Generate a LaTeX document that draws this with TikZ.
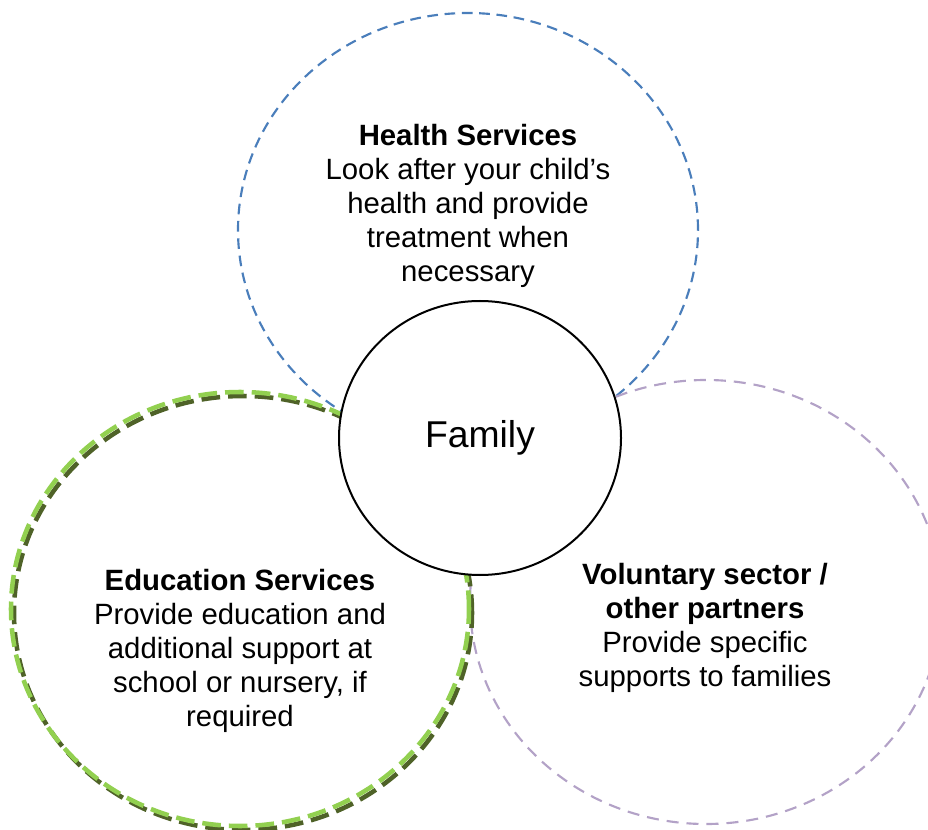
\documentclass[tikz,border=0pt]{standalone}
\usepackage{fontspec}
\setmainfont{Liberation Sans}
\usetikzlibrary{positioning,shapes.geometric}
\definecolor{healthblue}{HTML}{4A7EBB}
\definecolor{volpurple}{HTML}{B3A2C7}
\definecolor{edulight}{HTML}{92D050}
\definecolor{edudark}{HTML}{4F6228}

\begin{document}
\begin{tikzpicture}[
x=0.75pt,y=-0.75pt,
ring/.style={
	ellipse,
	draw,
	inner sep=0pt
},
healthring/.style={
	ring,
	healthblue,
	line width=1.6pt,
	dash pattern=on 8pt off 5pt
},
volring/.style={
	ring,
	volpurple,
	line width=1.6pt,
	dash pattern=on 9pt off 6pt
},
eduring/.style={
	ring,
	line width=3.4pt,
	dash pattern=on 14pt off 6pt
},
blurb/.style={
	align=center,
	inner sep=0pt,
	anchor=north,
	font=\fontsize{22}{25.5}\selectfont
}
]
\useasboundingbox (0,0) rectangle (928,830);

\node[healthring,minimum width=345pt,minimum height=325.5pt] (health) at (468,230) {};
\node[volring,minimum width=354pt,minimum height=333pt] (volunt) at (706,602) {};
\node[eduring,edudark,minimum width=343.5pt,minimum height=325.5pt] (educshadow) at (243,613) {};
\node[eduring,edulight,minimum width=343.5pt,minimum height=325.5pt] (educ) at (240,609) {};

\node[ring,fill=white,line width=1.5pt,minimum width=211.5pt,minimum height=205.5pt,
	font=\fontsize{28}{33}\selectfont] (family) at (480,438) {Family};

\node[blurb] (healthtxt) at (468,124) {\textbf{Health Services}\\Look after your child’s\\health and provide\\treatment when\\necessary};
\node[blurb] (eductxt) at (240,569) {\textbf{Education Services}\\Provide education and\\additional support at\\school or nursery, if\\required};
\node[blurb] (volunttxt) at (705,563) {\textbf{Voluntary sector /}\\\textbf{other partners}\\Provide specific\\supports to families};
\end{tikzpicture}
\end{document}
